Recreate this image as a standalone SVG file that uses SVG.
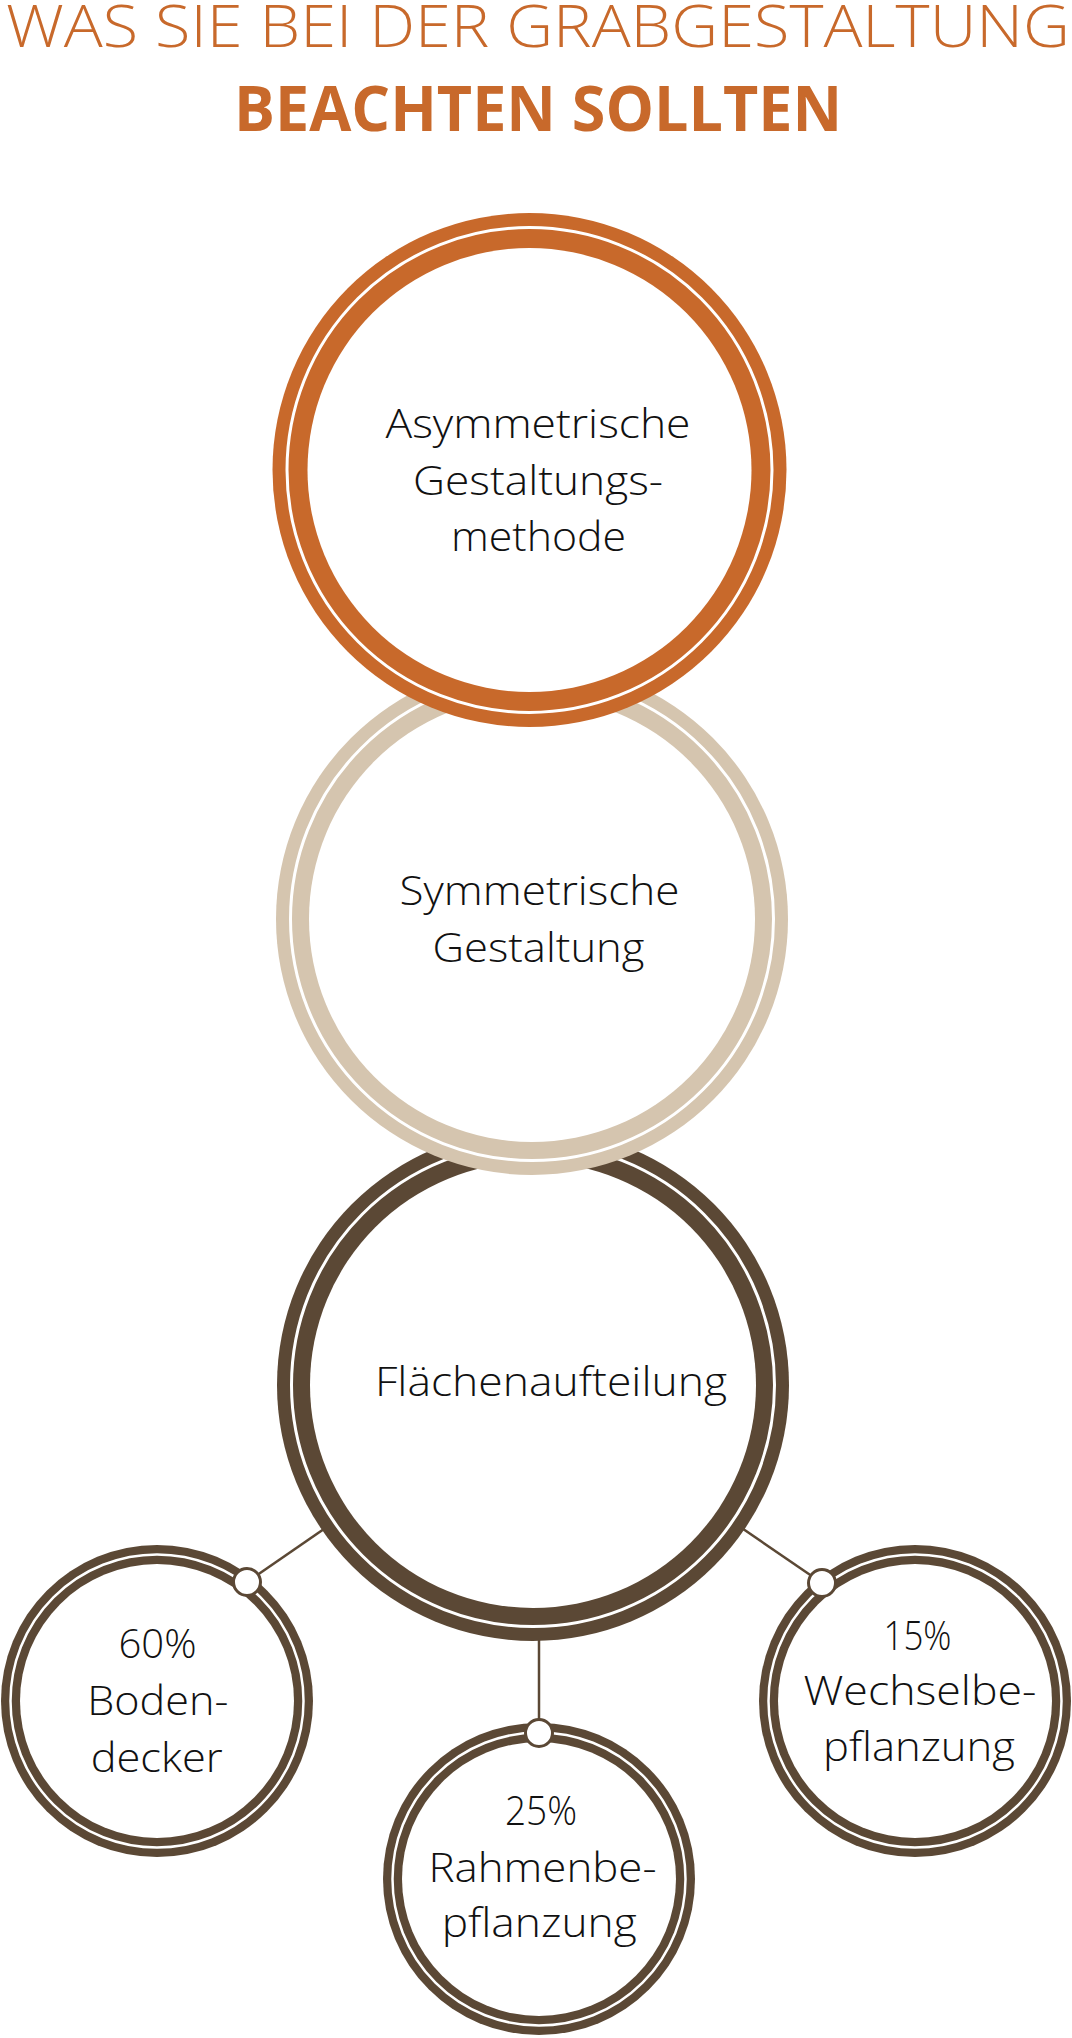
<svg xmlns="http://www.w3.org/2000/svg" width="1072" height="2038" viewBox="0 0 1072 2038">
<style>
.title{fill:#C8692B;font-family:"Open Sans","Liberation Sans",sans-serif;text-anchor:middle}
.t1{font-size:58px;font-weight:300}
.t2{font-size:62px;font-weight:700}
.lbl{fill:#111;font-family:"Open Sans","Liberation Sans",sans-serif;font-weight:300;font-size:40px;text-anchor:middle}
.big{font-size:41px}
.ws{fill:none;stroke:#fff}
.in{fill:#fff}
.conn{stroke:#5B4835;stroke-width:2.5;fill:none}
.knob{fill:#fff;stroke:#5B4835;stroke-width:3}
</style>
<rect width="1072" height="2038" fill="#fff"/>
<g id="title">
<text class="title t1" x="538" y="47" textLength="1064" lengthAdjust="spacingAndGlyphs">WAS SIE BEI DER GRABGESTALTUNG</text>
<text class="title t2" x="538" y="131" textLength="608" lengthAdjust="spacingAndGlyphs">BEACHTEN SOLLTEN</text>
</g>
<g id="connectors">
<line class="conn" x1="533" y1="1385" x2="247" y2="1582"/>
<line class="conn" x1="533" y1="1385" x2="822" y2="1583"/>
<line class="conn" x1="539" y1="1500" x2="539" y2="1733"/>
</g>
<g id="node-flaechen">
<circle cx="533" cy="1385" r="256" fill="#5B4835"/>
<circle class="ws" cx="533" cy="1385" r="241.5" stroke-width="3"/>
<circle class="in" cx="533" cy="1385" r="223"/>
<text class="lbl big" x="551" y="1396" textLength="352" lengthAdjust="spacingAndGlyphs">Flächenaufteilung</text>
</g>
<g id="node-symmetrisch">
<circle cx="532" cy="919" r="256" fill="#D5C5AF"/>
<circle class="ws" cx="532" cy="919" r="241.5" stroke-width="3"/>
<circle class="in" cx="532" cy="919" r="223"/>
<text class="lbl big" x="539.5" y="905" textLength="280" lengthAdjust="spacingAndGlyphs">Symmetrische</text>
<text class="lbl big" x="538.5" y="962" textLength="212" lengthAdjust="spacingAndGlyphs">Gestaltung</text>
</g>
<g id="node-asymmetrisch">
<circle cx="529.5" cy="470" r="257" fill="#C8692B"/>
<circle class="ws" cx="529.5" cy="470" r="242.5" stroke-width="3"/>
<circle class="in" cx="529.5" cy="470" r="222"/>
<text class="lbl big" x="538" y="438" textLength="305" lengthAdjust="spacingAndGlyphs">Asymmetrische</text>
<text class="lbl big" x="538" y="494.5" textLength="250" lengthAdjust="spacingAndGlyphs">Gestaltungs-</text>
<text class="lbl big" x="538.5" y="551" textLength="175" lengthAdjust="spacingAndGlyphs">methode</text>
</g>
<g id="node-bodendecker">
<circle cx="157" cy="1701" r="156" fill="#5B4835"/>
<circle class="ws" cx="157" cy="1701" r="146.5" stroke-width="2.5"/>
<circle class="in" cx="157" cy="1701" r="137"/>
<circle class="knob" cx="247" cy="1582" r="13.5"/>
<text class="lbl" x="157.5" y="1658" textLength="78" lengthAdjust="spacingAndGlyphs">60%</text>
<text class="lbl" x="157.8" y="1715" textLength="141" lengthAdjust="spacingAndGlyphs">Boden-</text>
<text class="lbl" x="156.7" y="1772" textLength="132" lengthAdjust="spacingAndGlyphs">decker</text>
</g>
<g id="node-rahmen">
<circle cx="539" cy="1879" r="156" fill="#5B4835"/>
<circle class="ws" cx="539" cy="1879" r="146.5" stroke-width="2.5"/>
<circle class="in" cx="539" cy="1879" r="137"/>
<circle class="knob" cx="539" cy="1733" r="13.5"/>
<text class="lbl" x="541" y="1825" textLength="72" lengthAdjust="spacingAndGlyphs">25%</text>
<text class="lbl" x="542.5" y="1882" textLength="228" lengthAdjust="spacingAndGlyphs">Rahmenbe-</text>
<text class="lbl" x="539.2" y="1937" textLength="195" lengthAdjust="spacingAndGlyphs">pflanzung</text>
</g>
<g id="node-wechsel">
<circle cx="915" cy="1701" r="156" fill="#5B4835"/>
<circle class="ws" cx="915" cy="1701" r="146.5" stroke-width="2.5"/>
<circle class="in" cx="915" cy="1701" r="137"/>
<circle class="knob" cx="822" cy="1583" r="13.5"/>
<text class="lbl" x="917.5" y="1650" textLength="68" lengthAdjust="spacingAndGlyphs">15%</text>
<text class="lbl" x="920" y="1705" textLength="233" lengthAdjust="spacingAndGlyphs">Wechselbe-</text>
<text class="lbl" x="919" y="1761" textLength="192" lengthAdjust="spacingAndGlyphs">pflanzung</text>
</g>
</svg>
